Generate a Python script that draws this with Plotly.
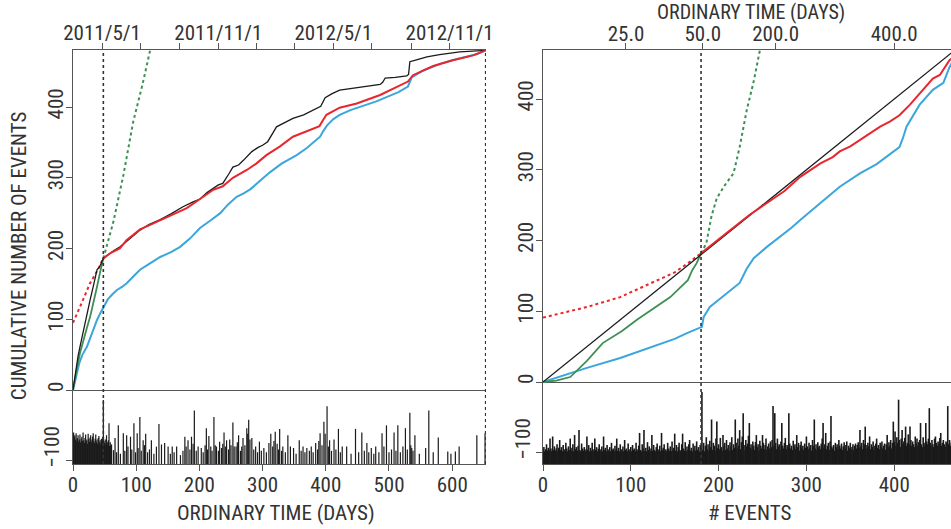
import datetime as dt
import plotly.graph_objects as go

# ---------------- data ----------------
N_EVENTS = 480
SPLIT_DAY = 48          # end of learning period (days)
END_DAY = 653           # end of catalogue (days)
SPLIT_IDX = 180         # event index of the split
ORIGIN = dt.date(2011, 3, 16)

# left panel: cumulative number vs ordinary time
obs_day = [0, 2, 5, 8, 11, 15, 20, 27, 33, 38, 42, 46, 48, 52, 58, 66, 74, 85, 95, 106, 120, 138,
           155, 174, 190, 201, 212, 222, 230, 237, 242, 247, 253, 262, 270, 277, 283, 293, 300,
           308, 315, 318, 322, 335, 348, 365, 383, 392, 399, 410, 422, 440, 454, 470, 486, 490,
           494, 510, 528, 531, 533, 545, 560, 580, 597, 612, 653]
obs_cum = [0, 14, 32, 48, 61, 78, 100, 127, 150, 170, 174, 184, 186, 189, 193, 198, 202, 210, 217,
           226, 234, 241, 249, 259, 266, 270, 279, 285, 290, 292, 300, 306, 315, 318, 325, 332, 337,
           343, 346, 351, 363, 366, 372, 378, 384, 389, 397, 401, 413, 419, 424, 426, 428, 430, 432,
           435, 441, 442, 444, 446, 464, 467, 471, 474, 476, 478, 480]

red_day = [48, 60, 74, 85, 95, 106, 116, 138, 159, 180, 201, 222, 237, 253, 275, 290, 306, 327,
           348, 369, 390, 396, 401, 422, 449, 486, 517, 530, 538, 570, 601, 633, 653]
red_cum = [186, 194, 200, 212, 219, 227, 231, 240, 249, 257, 270, 283, 288, 300, 311, 320, 332, 344,
           358, 366, 373, 382, 389, 399, 405, 417, 430, 436, 445, 458, 466, 473, 480]
red_pre_day = [0, 5, 11, 18, 27, 34, 40, 45, 48]
red_pre_cum = [95, 106, 117, 132, 151, 162, 171, 181, 186]

blue_day = [0, 3, 6, 10, 15, 22, 30, 38, 44, 48, 55, 62, 69, 78, 85, 95, 106, 120, 138, 155, 169,
            185, 201, 218, 233, 245, 259, 270, 281, 295, 312, 330, 354, 370, 391, 396, 402, 412,
            422, 440, 465, 480, 496, 515, 530, 534, 536, 555, 581, 600, 623, 640, 653]
blue_cum = [0, 12, 24, 38, 50, 61, 80, 99, 110, 117, 128, 135, 141, 146, 151, 160, 170, 178, 188,
            195, 202, 214, 229, 240, 250, 262, 273, 278, 284, 295, 308, 320, 332, 342, 358, 366,
            374, 383, 389, 396, 403, 408, 414, 421, 429, 439, 442, 452, 461, 466, 471, 475, 480]

green_day = [0, 3, 6, 11, 16, 22, 27, 33, 38, 43, 46, 48]
green_cum = [0, 16, 30, 52, 70, 88, 103, 125, 146, 167, 180, 186]
green_ext_day = [48, 64, 80, 95, 110, 122]
green_ext_cum = [186, 238, 305, 378, 432, 480]

# right panel: model cumulative vs event index
red_r_idx = [180, 200, 217, 235, 255, 275, 293, 305, 316, 330, 338, 350, 361, 372, 384, 395, 406,
             418, 429, 437, 444, 452, 463, 470]
red_r_cum = [182, 202, 219, 236, 253, 270, 290, 300, 309, 318, 326, 333, 342, 350, 361, 368, 377,
             392, 408, 420, 429, 434, 455, 462]
red_r_pre_idx = [0, 20, 50, 88, 122, 150, 164, 180]
red_r_pre_cum = [91, 97, 106, 120, 139, 155, 167, 182]

blue_r_idx = [0, 20, 31, 50, 88, 125, 150, 164, 181, 183, 190, 202, 210, 217, 224, 232, 240, 255,
              270, 283, 293, 305, 316, 338, 361, 380, 391, 406, 410, 414, 429, 444, 456, 463, 470]
blue_r_cum = [0, 8, 12, 20, 34, 50, 61, 69, 78, 92, 106, 118, 126, 132, 140, 160, 175, 191, 205,
              218, 229, 241, 253, 276, 295, 308, 318, 332, 345, 361, 392, 413, 423, 445, 460]

green_r_idx = [0, 15, 31, 50, 68, 90, 107, 125, 145, 160, 165, 170, 175, 180]
green_r_cum = [0, 2, 7, 30, 55, 72, 88, 103, 120, 138, 144, 158, 168, 182]
green_r_ext_idx = [180, 186, 192, 198, 207, 217, 224, 232, 240, 247, 252]
green_r_ext_cum = [182, 196, 235, 260, 278, 295, 332, 384, 425, 469, 500]

# axis ticks
left_bottom_ticks = [0, 100, 200, 300, 400, 500, 600]
right_bottom_ticks = [0, 100, 200, 300, 400]
y_ticks = [-100, 0, 100, 200, 300, 400]
y_ticktext = ["", "0", "100", "200", "300", "400"]
LOW_LABEL = "\u2212100"          # label of the lower (event-size) strip, set just above its tick
top_dates = ["2011/5/1", "2011/7/1", "2011/9/1", "2011/11/1", "2012/1/1", "2012/3/1",
             "2012/5/1", "2012/7/1", "2012/9/1", "2012/11/1"]
top_date_labels = ["2011/5/1", "", "", "2011/11/1", "", "", "2012/5/1", "", "", "2012/11/1"]
right_top_idx = [94.5, 182, 265, 400]
right_top_labels = ["25.0", "50.0", "200.0", "400.0"]

# event-size bars, left panel (by day)
left_bar_day = [0, 1, 2, 3, 4, 5, 6, 7, 8, 9, 10, 11, 12, 13, 14, 15, 16, 17, 18, 19, 20, 21, 22,
                23, 24, 25, 26, 27, 28, 29, 30, 31, 32, 33, 34, 35, 36, 37, 38, 39, 40, 41, 42, 43,
                44, 45, 46, 47, 48, 49, 50, 51, 52, 53, 54, 55, 56, 57, 58, 59, 60, 61,
                64, 66.5, 69, 71.7, 75, 79.6, 82, 84.9, 87, 91, 93, 96.4, 99, 101.6, 103, 105.8,
                108, 111, 113, 115, 118, 121, 124, 128, 132, 136, 140, 145, 150.5, 154, 157, 160,
                164, 170, 174, 177, 179, 182, 185, 187.5, 190, 192, 195, 198, 203, 206, 209, 211,
                213, 215, 218, 220, 223, 225, 227, 230, 232, 235, 237, 239, 241, 243, 246, 248,
                250, 253, 255, 258, 260, 262, 265, 267, 269, 272, 275, 276.5, 278, 280, 283, 286,
                289, 292, 295, 298, 302, 306, 310, 313, 316, 318, 320, 323, 325, 327, 330, 332,
                336, 340, 344, 349, 353, 358, 361, 364, 367, 370, 374, 377, 380, 384, 387, 389,
                391, 394, 397, 399, 402, 404, 406, 409, 413, 416, 420, 423, 426, 433, 440, 447,
                452, 457, 461, 465, 468, 472, 476, 479, 484, 489, 492, 496, 500, 504, 508, 511,
                514, 518, 522, 526, 529, 533, 534.5, 536, 538, 541, 548, 558, 563, 570, 578, 593,
                598, 605, 611, 639, 652]
left_bar_top = [-62, -60, -66, -64, -70, -61, -72, -68, -64, -73, -70, -63, -74, -69, -66, -72,
                -60, -71, -75, -68, -63, -72, -70, -76, -62, -69, -73, -67, -64, -74, -70, -66,
                -61, -72, -75, -69, -63, -73, -70, -76, -68, -65, -74, -71, -77, -69, -73, -66,
                -14, -72, -75, -70, -78, -64, -73, -76, -71, -47, -79, -74, -80, -77,
                -85, -68, -88, -50, -90, -61, -86, -64, -80, -66, -84, -47, -88, -61, -82, -38,
                -86, -71, -78, -62, -88, -84, -71, -90, -80, -48, -77, -75, -80, -90, -80, -88,
                -80, -92, -86, -66, -80, -71, -84, -66, -76, -29, -86, -80, -82, -88, -78, -54,
                -84, -65, -80, -86, -38, -78, -80, -86, -73, -82, -76, -60, -80, -71, -84, -70,
                -78, -46, -80, -80, -74, -64, -86, -80, -68, -78, -54, -62, -42, -70, -68, -84,
                -80, -88, -73, -86, -82, -88, -75, -62, -80, -72, -59, -76, -84, -55, -86, -80,
                -88, -64, -80, -82, -90, -71, -86, -80, -88, -82, -86, -80, -88, -75, -84, -72,
                -61, -78, -45, -62, -23, -80, -71, -86, -70, -84, -55, -88, -80, -80, -90, -55,
                -88, -60, -86, -75, -88, -82, -90, -80, -88, -61, -80, -50, -88, -84, -60, -86,
                -50, -88, -80, -54, -84, -32, -78, -82, -86, -64, -90, -82, -29, -88, -67, -87,
                -90, -87, -80, -64, -61]

# event-size bars, right panel (one per event index)
right_bar_top = [
    -97, -92, -98, -95, -88, -97, -93, -96, -80, -94, -98, -77, -96, -91, -97, -94, -88, -98, -93, -82,
    -96, -92, -98, -89, -95, -97, -86, -94, -98, -91, -96, -80, -97, -93, -88, -98, -75, -95, -92, -97,
    -90, -68, -96, -98, -87, -94, -97, -92, -98, -95, -77, -96, -89, -98, -93, -97, -86, -95, -98, -80,
    -96, -92, -98, -94, -88, -97, -95, -91, -98, -77, -96, -93, -98, -89, -95, -97, -92, -98, -86, -96,
    -94, -98, -90, -96, -80, -97, -93, -98, -88, -95, -97, -91, -98, -82, -96, -94, -98, -87, -95, -97,
    -92, -98, -89, -96, -94, -98, -86, -95, -97, -90, -72, -96, -98, -88, -94, -68, -97, -93, -98, -85,
    -96, -91, -98, -94, -75, -97, -89, -96, -98, -92, -87, -95, -97, -90, -98, -72, -96, -93, -88, -97,
    -95, -98, -86, -94, -97, -91, -98, -84, -96, -93, -73, -97, -89, -98, -92, -86, -96, -98, -88, -73,
    -94, -97, -85, -98, -91, -96, -88, -82, -97, -93, -98, -87, -95, -90, -97, -84, -96, -92, -98, -89,
    -94, -14, -96, -86, -98, -90, -78, -95, -88, -97, -83, -92, -53, -96, -86, -90, -97, -80, -56, -93,
    -88, -95, -79, -92, -97, -75, -90, -86, -96, -82, -94, -89, -97, -85, -91, -78, -96, -88, -93, -53,
    -86, -94, -80, -90, -68, -95, -85, -77, -44, -89, -96, -82, -91, -87, -76, -58, -93, -88, -95, -84,
    -90, -96, -85, -75, -92, -88, -97, -83, -90, -94, -75, -86, -95, -89, -80, -96, -91, -87, -94, -84,
    -92, -82, -34, -90, -44, -86, -95, -80, -91, -88, -96, -84, -58, -90, -94, -86, -79, -95, -89, -92,
    -44, -87, -94, -90, -96, -83, -91, -88, -95, -75, -92, -86, -97, -89, -84, -94, -90, -96, -87, -93,
    -77, -91, -95, -86, -93, -89, -97, -82, -90, -53, -94, -88, -96, -85, -92, -90, -95, -87, -80, -58,
    -93, -88, -72, -95, -90, -86, -96, -84, -48, -91, -94, -89, -97, -86, -92, -88, -95, -82, -90, -94,
    -87, -96, -91, -85, -94, -89, -84, -97, -90, -93, -86, -95, -92, -88, -96, -90, -87, -94, -89, -85,
    -93, -68, -90, -86, -95, -82, -88, -63, -94, -89, -86, -91, -77, -95, -88, -92, -84, -96, -90, -87,
    -80, -93, -89, -95, -86, -91, -84, -94, -90, -87, -96, -88, -75, -92, -85, -90, -82, -94, -86, -56,
    -84, -70, -90, -78, -86, -25, -82, -92, -80, -68, -88, -84, -79, -63, -90, -86, -74, -88, -63, -82,
    -90, -84, -88, -92, -77, -86, -80, -90, -85, -82, -58, -88, -92, -78, -86, -90, -58, -84, -88, -80,
    -37, -86, -90, -82, -88, -92, -80, -77, -86, -90, -84, -88, -79, -72, -90, -86, -82, -88, -92, -84,
    -86, -34, -88, -82, -90, -86, -80, -88, -84, -90, -82, -86, -88, -80, -90, -84, -86, -88, -82, -86,
]

# ---------------- styling ----------------
LEFT_X_RANGE = [0, 653.5]
LEFT_Y_RANGE = [-104.6, 480.6]
RIGHT_X_RANGE = [0, 464.7]
RIGHT_Y_RANGE = [-115.9, 469.3]

FONT = "Liberation Sans Narrow, Arial Narrow, Roboto Condensed, Roboto, sans-serif"
FS = 21
TXT = "#333333"
AX = "#555555"
RED = "#e8262d"
BLUE = "#3aa6dc"
GREEN = "#3f8f55"
BLACK = "#1a1a1a"


def bar_segments(xs, tops, base):
    X, Y = [], []
    for x, t in zip(xs, tops):
        X += [x, x, None]
        Y += [base, t, None]
    return X, Y


top_day = [(dt.date(*map(int, d.split("/"))) - ORIGIN).days for d in top_dates]

fig = go.Figure()

# ----- left panel -----
bx, by = bar_segments(left_bar_day, left_bar_top, LEFT_Y_RANGE[0])
fig.add_trace(go.Scatter(x=bx, y=by, mode="lines", line=dict(color=BLACK, width=1.2),
                         xaxis="x", yaxis="y", hoverinfo="skip"))
fig.add_trace(go.Scatter(x=red_pre_day, y=red_pre_cum, mode="lines",
                         line=dict(color=RED, width=2, dash="dot"), xaxis="x", yaxis="y"))
fig.add_trace(go.Scatter(x=green_ext_day, y=green_ext_cum, mode="lines",
                         line=dict(color=GREEN, width=2, dash="dot"), xaxis="x", yaxis="y"))
fig.add_trace(go.Scatter(x=blue_day, y=blue_cum, mode="lines",
                         line=dict(color=BLUE, width=2), xaxis="x", yaxis="y"))
fig.add_trace(go.Scatter(x=green_day, y=green_cum, mode="lines",
                         line=dict(color=GREEN, width=1.8), xaxis="x", yaxis="y"))
fig.add_trace(go.Scatter(x=obs_day, y=obs_cum, mode="lines",
                         line=dict(color=BLACK, width=1.3), xaxis="x", yaxis="y"))
fig.add_trace(go.Scatter(x=red_day, y=red_cum, mode="lines",
                         line=dict(color=RED, width=2), xaxis="x", yaxis="y"))
# invisible carrier so the top (calendar) axis is drawn
fig.add_trace(go.Scatter(x=[100, 200], y=[0, 0], mode="lines", line=dict(width=0),
                         opacity=0, xaxis="x2", yaxis="y", hoverinfo="skip"))

# ----- right panel -----
ridx = list(range(len(right_bar_top)))
rx, ry = bar_segments(ridx, right_bar_top, RIGHT_Y_RANGE[0])
fig.add_trace(go.Scatter(x=rx, y=ry, mode="lines", line=dict(color=BLACK, width=1.6),
                         xaxis="x3", yaxis="y2", hoverinfo="skip"))
fig.add_trace(go.Scatter(x=red_r_pre_idx, y=red_r_pre_cum, mode="lines",
                         line=dict(color=RED, width=2, dash="dot"), xaxis="x3", yaxis="y2"))
fig.add_trace(go.Scatter(x=green_r_ext_idx, y=green_r_ext_cum, mode="lines",
                         line=dict(color=GREEN, width=2, dash="dot"), xaxis="x3", yaxis="y2"))
fig.add_trace(go.Scatter(x=blue_r_idx, y=blue_r_cum, mode="lines",
                         line=dict(color=BLUE, width=2), xaxis="x3", yaxis="y2"))
fig.add_trace(go.Scatter(x=green_r_idx, y=green_r_cum, mode="lines",
                         line=dict(color=GREEN, width=1.8), xaxis="x3", yaxis="y2"))
fig.add_trace(go.Scatter(x=[0, N_EVENTS], y=[0, N_EVENTS], mode="lines",
                         line=dict(color=BLACK, width=1.3), xaxis="x3", yaxis="y2"))
fig.add_trace(go.Scatter(x=red_r_idx, y=red_r_cum, mode="lines",
                         line=dict(color=RED, width=2), xaxis="x3", yaxis="y2"))
fig.add_trace(go.Scatter(x=[100, 200], y=[0, 0], mode="lines", line=dict(width=0),
                         opacity=0, xaxis="x4", yaxis="y2", hoverinfo="skip"))

tickfont = dict(family=FONT, size=FS, color=TXT)
common_x = dict(showgrid=False, zeroline=False, showline=True, linecolor=AX, linewidth=1.3,
                ticks="outside", ticklen=6, tickcolor=AX, tickwidth=1.2, tickfont=tickfont,
                automargin=False, ticklabelstandoff=-4)
common_y = dict(showgrid=False, showline=True, linecolor=AX, linewidth=1.3,
                ticks="outside", ticklen=6, tickcolor=AX, tickwidth=1.2, tickfont=tickfont,
                tickangle=-90, zeroline=True, zerolinecolor=AX, zerolinewidth=1.3,
                tickmode="array", tickvals=y_ticks, ticktext=y_ticktext,
                automargin=False, ticklabelstandoff=-6)

DOM_L = [0, 413 / 878]
DOM_R = [470 / 878, 1]

fig.update_layout(
    width=951, height=529,
    margin=dict(l=73, r=0, t=50, b=65, autoexpand=False),
    paper_bgcolor="white", plot_bgcolor="white",
    showlegend=False, hovermode=False,
    font=dict(family=FONT, size=FS, color=TXT),
    xaxis=dict(common_x, domain=DOM_L, range=LEFT_X_RANGE, anchor="y",
               tickmode="array", tickvals=left_bottom_ticks),
    xaxis2=dict(common_x, overlaying="x", side="top", range=LEFT_X_RANGE, anchor="y",
                tickmode="array", tickvals=top_day, ticktext=top_date_labels),
    yaxis=dict(common_y, domain=[0, 1], range=LEFT_Y_RANGE, anchor="x"),
    xaxis3=dict(common_x, domain=DOM_R, range=RIGHT_X_RANGE, anchor="y2",
                tickmode="array", tickvals=right_bottom_ticks),
    xaxis4=dict(common_x, overlaying="x3", side="top", range=RIGHT_X_RANGE, anchor="y2",
                tickmode="array", tickvals=right_top_idx, ticktext=right_top_labels),
    yaxis2=dict(common_y, domain=[0, 1], range=RIGHT_Y_RANGE, anchor="x3"),
)
fig.update_layout(xaxis4=dict(ticklabelstandoff=-7), xaxis2=dict(ticklabelstandoff=-6))

dot = dict(color="#333333", width=1.6, dash="dot")
fig.add_shape(type="line", xref="x", yref="y domain", x0=SPLIT_DAY, x1=SPLIT_DAY, y0=0, y1=1, line=dot)
fig.add_shape(type="line", xref="x", yref="y domain", x0=END_DAY, x1=END_DAY, y0=0, y1=1, line=dot)
fig.add_shape(type="line", xref="x3", yref="y2 domain", x0=SPLIT_IDX, x1=SPLIT_IDX, y0=0, y1=1, line=dot)

title_font = dict(family=FONT, size=21, color=TXT)
ann = dict(xref="paper", yref="paper", showarrow=False, font=title_font,
           xanchor="center", yanchor="middle")
fig.add_annotation(ann, text="CUMULATIVE NUMBER OF EVENTS", x=(19 - 73) / 878, y=0.502,
                   textangle=-90)
fig.add_annotation(ann, text="ORDINARY TIME (DAYS)", x=(276 - 73) / 878, y=(464 - 513) / 414)
fig.add_annotation(ann, text="# EVENTS", x=(749 - 73) / 878, y=(464 - 513) / 414)
fig.add_annotation(ann, text="ORDINARY TIME (DAYS)", x=(751 - 73) / 878, y=(464 - 12) / 414,
                   font=dict(family=FONT, size=20, color=TXT))
# labels of the lower event-size strips (placed just above the -100 tick, as in the original)
fig.add_annotation(ann, text=LOW_LABEL, xref="paper", yref="y", x=(52 - 73) / 878,
                   y=-100 + 14 / 0.7075, textangle=-90, font=tickfont)
fig.add_annotation(ann, text=LOW_LABEL, xref="paper", yref="y2", x=(523 - 73) / 878,
                   y=-100 + 14 / 0.7075, textangle=-90, font=tickfont)

fig.write_html("out.html")
